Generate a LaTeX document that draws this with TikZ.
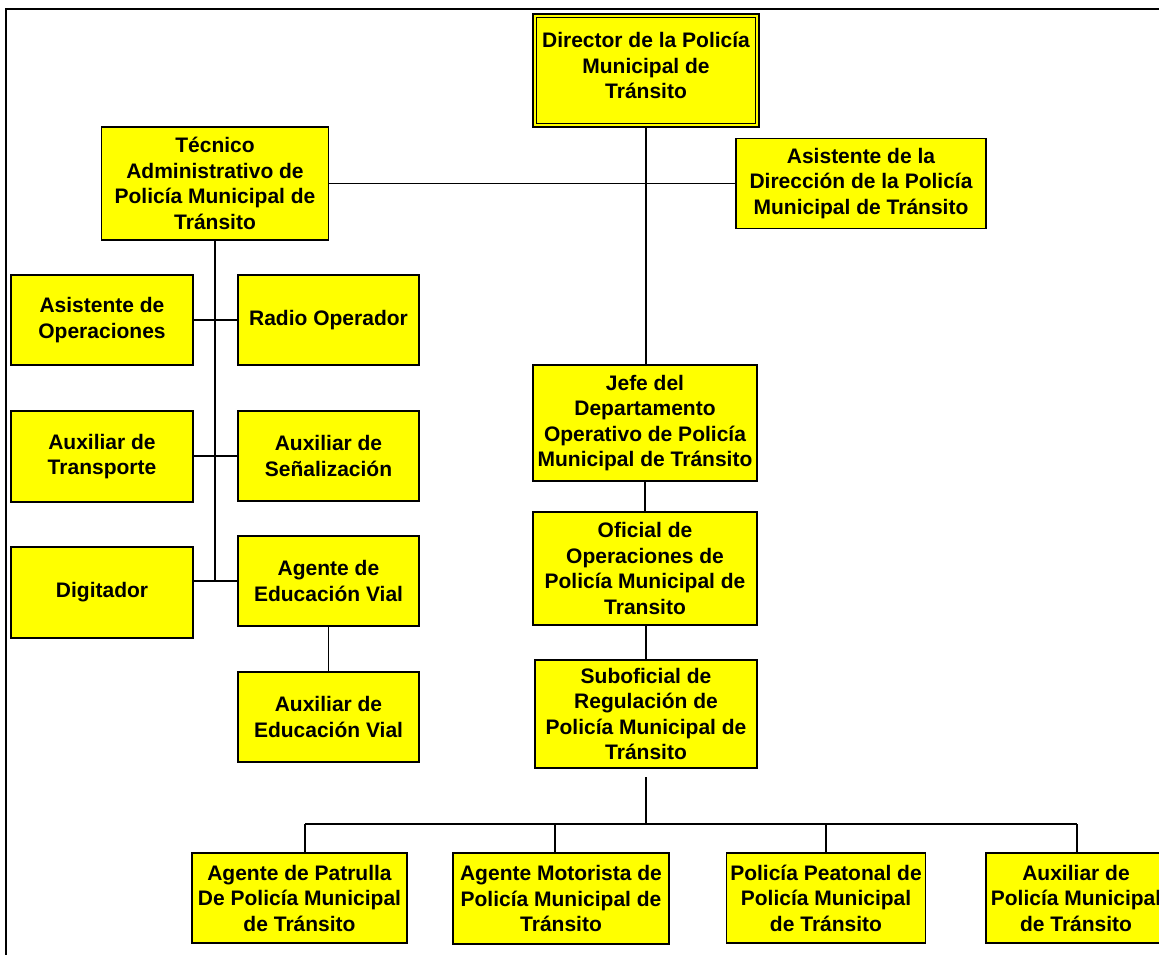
\documentclass[tikz,border=0pt]{standalone}
\usepackage{fontspec}
\setmainfont{Liberation Sans}
\definecolor{boxyellow}{HTML}{FFFF00}
\begin{document}
\begin{tikzpicture}[x=1pt,y=-1pt,
  orgbox/.style={draw=black, fill=boxyellow, line width=1.6pt, inner sep=0pt,
    align=center, font=\fontsize{21}{25.5}\selectfont\bfseries},
  conn/.style={line width=1.6pt, draw=black}]
\useasboundingbox (0,0) rectangle (1159,954);
% frame
\draw[line width=2pt] (6,960) -- (6,9) -- (1170,9);
% boxes
\node[orgbox, minimum width=226pt, minimum height=113pt] (dir) at (646,70.5) {Director de la Policía\\Municipal de\\Tránsito\\[-15.5pt]};
\draw[line width=1.4pt] ([shift={(4.5,4.5)}]dir.north west) rectangle ([shift={(-4.5,-4.5)}]dir.south east);
\node[orgbox, minimum width=227pt, minimum height=113pt] (tec) at (215,183.5) {Técnico\\Administrativo de\\Policía Municipal de\\Tránsito};
\node[orgbox, minimum width=250pt, minimum height=90pt] (asd) at (861,183.5) {Asistente de la\\Dirección de la Policía\\Municipal de Tránsito};
\node[orgbox, minimum width=182pt, minimum height=90pt] (aop) at (102,320) {Asistente de\\Operaciones};
\node[orgbox, minimum width=181pt, minimum height=90pt] (rad) at (328.5,320) {Radio Operador};
\node[orgbox, minimum width=182pt, minimum height=91pt] (atr) at (102,456.5) {Auxiliar de\\Transporte};
\node[orgbox, minimum width=181pt, minimum height=90pt] (ase) at (328.5,456) {Auxiliar de\\Señalización};
\node[orgbox, minimum width=182pt, minimum height=91pt] (dig) at (102,592.5) {Digitador};
\node[orgbox, minimum width=181pt, minimum height=90pt] (aev) at (328.5,581) {Agente de\\Educación Vial};
\node[orgbox, minimum width=181pt, minimum height=90pt] (auev) at (328.5,717) {Auxiliar de\\Educación Vial};
\node[orgbox, minimum width=224pt, minimum height=116pt] (jefe) at (645,423) {Jefe del\\Departamento\\Operativo de Policía\\Municipal de Tránsito};
\node[orgbox, minimum width=224pt, minimum height=113pt] (ofi) at (645,568.5) {Oficial de\\Operaciones de\\Policía Municipal de\\Transito};
\node[orgbox, minimum width=222pt, minimum height=108pt] (sub) at (646,714) {Suboficial de\\Regulación de\\Policía Municipal de\\Tránsito};
\node[orgbox, minimum width=215pt, minimum height=90pt] (pat) at (299.5,898) {Agente de Patrulla\\De Policía Municipal\\de Tránsito};
\node[orgbox, minimum width=216pt, minimum height=91pt] (mot) at (561,898.5) {Agente Motorista de\\Policía Municipal de\\Tránsito};
\node[orgbox, minimum width=199pt, minimum height=90pt] (pea) at (826,898) {Policía Peatonal de\\Policía Municipal\\de Tránsito};
\node[orgbox, minimum width=180pt, minimum height=90pt] (aux) at (1076,898) {Auxiliar de\\Policía Municipal\\de Tránsito};
% connectors
\draw[conn] (dir.south) -- (dir.south |- jefe.north);
\draw[conn] (tec.east) -- (asd.west);
\coordinate (tecend) at (215,581);
\draw[conn] (tec.south) -- (tecend);
\draw[conn] (aop.east) -- (rad.west);
\draw[conn] ([yshift=0.5]atr.east) -- (ase.west);
\draw[conn] (aev.west) -- (aev.west -| dig.east);
\draw[conn] (aev.south) -- (auev.north);
\draw[conn] (jefe.south) -- (ofi.north);
\draw[conn] (sub.north) -- (sub.north |- ofi.south);
\coordinate (subtop) at (646,777);
\coordinate (bus) at (646,824);
\coordinate (busL) at (305,824);
\coordinate (busR) at (1077,824);
\draw[conn] (subtop) -- (bus);
\draw[conn] (busL) -- (busR);
\draw[conn] (busL) -- (busL |- pat.north);
\coordinate (motdrop) at (555,824);
\draw[conn] (motdrop) -- (motdrop |- mot.north);
\draw[conn] (bus -| pea.north) -- (pea.north);
\draw[conn] (busR) -- (busR |- aux.north);
\end{tikzpicture}
\end{document}
